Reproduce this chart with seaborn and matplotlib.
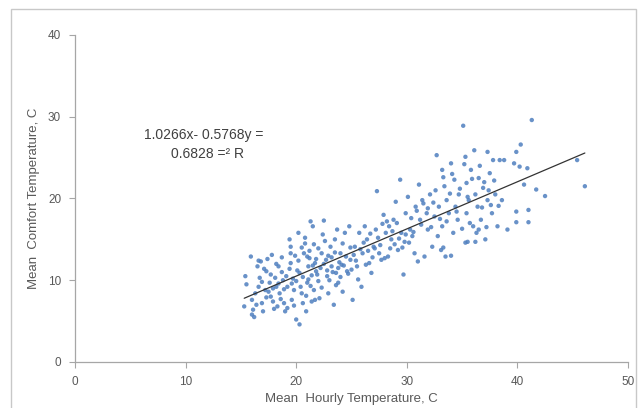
import matplotlib
matplotlib.use("Agg")
import matplotlib.pyplot as plt
import seaborn as sns
import pandas as pd
import numpy as np
from matplotlib.patches import Rectangle

# Mean hourly temperature (x) and mean comfort temperature (y)
hourly_temp = [
    15.3, 15.4, 15.5, 15.9, 16.0, 16.0, 16.1, 16.3, 16.5, 16.6, 16.7, 16.8, 16.9, 17.0, 17.2, 17.3,
    17.4, 17.6, 17.7, 17.8, 17.9, 18.1, 18.2, 18.3, 18.4, 18.5, 18.7, 18.8, 18.9, 19.0, 19.2, 19.4,
    19.5, 19.5, 19.5, 19.6, 19.8, 20.0, 20.3, 20.0, 20.2, 20.3, 20.5, 20.6, 20.7, 20.8, 20.9, 21.0,
    21.1, 21.2, 21.3, 21.4, 21.4, 21.5, 21.6, 21.7, 21.8, 22.0, 22.1, 22.3, 22.4, 22.5, 22.7, 22.8,
    22.9, 23.1, 23.2, 23.4, 23.5, 23.6, 23.7, 23.8, 24.0, 24.1, 24.2, 24.4, 24.6, 24.8, 24.9, 25.1,
    25.3, 25.5, 25.7, 25.9, 26.0, 26.2, 26.4, 26.6, 26.8, 27.0, 27.2, 27.3, 27.5, 27.7, 27.9, 28.1,
    28.3, 28.4, 28.6, 28.8, 29.0, 29.2, 29.4, 29.5, 29.7, 29.8, 29.9, 30.1, 30.3, 30.5, 30.7, 30.8,
    31.0, 31.1, 31.2, 31.4, 31.6, 31.8, 31.9, 32.1, 32.3, 32.5, 32.7, 32.8, 32.9, 33.1, 33.2, 33.2,
    33.4, 33.5, 33.6, 33.8, 34.0, 34.2, 34.3, 34.4, 34.6, 34.7, 35.1, 35.3, 35.4, 35.4, 35.5, 35.6,
    35.8, 36.0, 36.1, 36.2, 36.4, 36.5, 36.5, 36.7, 36.9, 37.1, 37.3, 37.3, 37.5, 37.7, 37.8, 38.0,
    38.2, 38.4, 38.6, 38.8, 39.1, 39.7, 39.9, 39.9, 39.9, 40.2, 40.3, 40.6, 40.9, 41.0, 41.0, 41.3,
    41.7, 42.5, 45.4, 46.1,
    16.2, 16.4, 16.6, 16.9, 17.1, 17.3, 17.5, 17.7, 17.9, 18.0, 18.2, 18.4, 18.6, 18.7, 18.9, 19.1,
    19.2, 19.4, 19.6, 19.7, 19.8, 19.9, 20.1, 20.2, 20.4, 20.5, 20.6, 20.8, 20.9, 21.0, 21.1, 21.2,
    21.3, 21.5, 21.6, 21.7, 21.8, 21.9, 22.0, 22.2, 22.3, 22.5, 22.6, 22.8, 22.9, 23.0, 23.2, 23.3,
    23.5, 23.6, 23.8, 23.9, 24.0, 24.2, 24.3, 24.5, 24.7, 24.9, 25.0, 25.2, 25.4, 25.6, 25.8, 26.1,
    26.3, 26.5, 26.7, 26.9, 27.1, 27.4, 27.6, 27.8, 28.0, 28.2, 28.5, 28.7, 28.9, 29.1, 29.3, 29.6,
    29.9, 30.2, 30.4, 30.6, 30.9, 31.3, 31.5, 31.9, 32.2, 32.4, 32.6, 33.0, 33.3, 33.6, 33.9, 34.1,
    34.5, 34.8, 35.0, 35.2, 35.5, 35.7, 35.9, 36.3, 36.6, 36.8, 37.0, 37.2, 37.4, 37.6, 37.9, 38.3,
    36.2, 35.3, 34.0, 33.3,
]
comfort_temp = [
    6.8, 10.5, 9.5, 12.9, 7.6, 5.8, 6.4, 8.4, 11.7, 9.2, 10.3, 12.3, 7.2, 6.2, 8.8, 11.1,
    12.6, 9.7, 8.0, 13.1, 7.4, 10.3, 9.2, 6.8, 11.7, 8.4, 12.8, 10.0, 7.2, 6.2, 9.2, 15.0,
    14.1, 13.3, 12.1, 7.6, 8.8, 5.2, 4.6, 9.9, 15.8, 10.9, 8.4, 7.2, 13.3, 14.5, 6.2, 9.7,
    11.7, 12.7, 17.2, 7.4, 10.6, 16.6, 8.8, 12.1, 11.1, 9.9, 7.8, 13.3, 15.6, 17.3, 12.5, 10.5,
    8.4, 14.1, 11.7, 7.0, 15.0, 10.9, 16.2, 9.7, 13.3, 11.9, 8.6, 15.8, 11.1, 16.6, 12.5, 7.6,
    14.1, 11.7, 15.8, 9.2, 13.3, 16.6, 15.0, 12.1, 10.9, 14.1, 16.2, 20.9, 13.3, 12.5, 18.0, 15.8,
    12.9, 16.6, 15.0, 17.4, 19.6, 13.7, 22.3, 15.8, 10.7, 14.7, 18.2, 20.2, 16.2, 15.4, 13.3, 19.0,
    12.3, 21.7, 17.4, 19.8, 12.9, 18.2, 16.2, 20.5, 14.1, 17.8, 25.3, 15.4, 19.0, 13.7, 23.5, 16.6,
    21.5, 12.9, 19.8, 18.2, 24.3, 15.8, 22.3, 19.0, 17.4, 20.5, 28.9, 25.1, 21.9, 18.2, 14.7, 19.8,
    23.5, 16.6, 25.9, 20.5, 19.0, 16.2, 22.5, 17.4, 21.3, 15.0, 25.7, 19.8, 23.1, 18.2, 24.7, 20.5,
    16.6, 24.7, 19.8, 24.7, 16.2, 24.3, 25.7, 18.4, 17.1, 23.9, 26.6, 21.7, 23.7, 18.6, 17.1, 29.6,
    21.1, 20.3, 24.7, 21.5,
    5.5, 7.0, 12.4, 9.8, 11.4, 7.9, 8.6, 10.7, 9.0, 6.5, 12.0, 9.6, 7.7, 11.0, 8.9, 10.5,
    6.6, 11.4, 9.6, 10.2, 6.9, 13.0, 11.2, 12.4, 9.2, 14.0, 10.4, 15.2, 8.1, 12.9, 10.1, 13.6,
    9.3, 11.8, 14.4, 7.6, 12.6, 10.7, 13.9, 11.5, 9.1, 12.0, 14.8, 11.2, 13.0, 10.0, 12.8, 11.0,
    13.4, 9.4, 11.5, 12.2, 10.4, 14.5, 11.8, 12.9, 10.8, 14.0, 11.3, 13.1, 12.4, 10.1, 13.8, 14.6,
    11.9, 13.6, 15.7, 12.8, 13.9, 15.2, 14.3, 16.9, 12.7, 17.2, 13.9, 16.0, 14.4, 17.0, 15.1, 14.0,
    15.6, 14.6, 17.6, 15.9, 18.5, 16.8, 19.4, 18.8, 16.5, 19.5, 21.0, 17.5, 22.6, 17.2, 20.6, 23.0,
    18.4, 21.2, 16.3, 24.2, 20.2, 17.0, 22.4, 15.8, 24.0, 18.9, 22.0, 16.5, 21.0, 19.2, 22.2, 19.1,
    14.7, 14.6, 13.0, 14.0,
]

# Trendline reported on the chart: y = 0.5768x - 1.0266, R² = 0.6828
trend_slope = 0.5768
trend_intercept = -1.0266
r_squared = 0.6828

x_ticks = [0, 10, 20, 30, 40, 50]
y_ticks = [0, 10, 20, 30, 40]

df = pd.DataFrame({"hourly": hourly_temp, "comfort": comfort_temp})

sns.set_style("white")
plt.rcParams["font.family"] = ["Liberation Sans", "DejaVu Sans"]

fig = plt.figure(figsize=(6.42, 4.08), dpi=100)
ax = fig.add_axes([75 / 642, 1 - 362 / 408, (628 - 75) / 642, (362 - 35) / 408])

sns.scatterplot(data=df, x="hourly", y="comfort", ax=ax, s=10, color="#4f7fbf",
                edgecolor="none", alpha=0.85, zorder=2)

line_x = np.array([min(hourly_temp), max(hourly_temp)])
line_df = pd.DataFrame({"x": line_x, "y": trend_slope * line_x + trend_intercept})
sns.lineplot(data=line_df, x="x", y="y", ax=ax, color="#333333", linewidth=0.9, zorder=3)

ax.text(11.6, 27.8, f"{abs(trend_intercept):.4f}x- {trend_slope:.4f}y =", ha="center", va="center",
        fontsize=10, color="#404040")
ax.text(12.0, 25.4, f"{r_squared:.4f} =\u00b2 R", ha="center", va="center",
        fontsize=10, color="#404040")

ax.set_xlim(0, 50)
ax.set_ylim(0, 40)
ax.set_xticks(x_ticks)
ax.set_yticks(y_ticks)
ax.tick_params(axis="both", which="both", direction="out", length=4, width=0.8,
               color="#a6a6a6", labelsize=8.5, labelcolor="#595959", left=True, bottom=True)
ax.tick_params(axis="x", pad=6)
ax.tick_params(axis="y", pad=6)
for side in ["top", "right"]:
    ax.spines[side].set_visible(False)
for side in ["left", "bottom"]:
    ax.spines[side].set_color("#a6a6a6")
    ax.spines[side].set_linewidth(0.9)

ax.set_xlabel("Mean  Hourly Temperature, C", fontsize=9.5, color="#595959", labelpad=4)
ax.set_ylabel("Mean  Comfort Temperature, C", fontsize=9.5, color="#595959", labelpad=6)

fig.patches.append(Rectangle((11 / 642, -0.05), (636 - 11) / 642, 1.05 - 9 / 408,
                             transform=fig.transFigure, fill=False,
                             edgecolor="#c8c8c8", linewidth=1.0))

fig.savefig("out.png", dpi=100)
